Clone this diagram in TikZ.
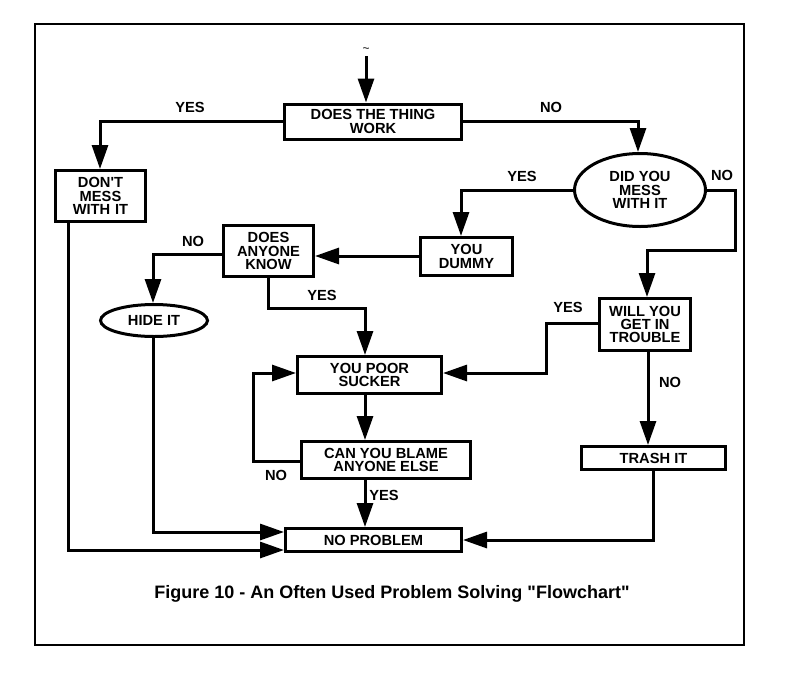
\documentclass[tikz,border=0pt]{standalone}
\usepackage{fontspec}
\setmainfont{Liberation Sans}[Ligatures=TeXOff]
\usetikzlibrary{arrows.meta,shapes.geometric}
\begin{document}
\begin{tikzpicture}[x=0.75pt,y=-0.75pt,
  box/.style={draw,line width=2.25pt,inner sep=0pt,align=center,
    font=\fontsize{11}{10}\selectfont\bfseries},
  wh/.style 2 args={minimum width=#1*0.75pt,minimum height=#2*0.75pt},
  oval/.style={box,ellipse},
  lbl/.style={inner sep=0pt,font=\fontsize{11}{10}\selectfont\bfseries},
  conn/.style={line width=2.25pt,-{Triangle[length=18pt,width=12pt]}},
  plain/.style={line width=2.25pt}]
\useasboundingbox (0,0) rectangle (791,682);
\draw[line width=2pt] (35,24) rectangle (744,645);
% nodes
\node[box,wh={177}{35}] (work) at (373,121.5) {DOES THE THING\\WORK};
\node[box,wh={90}{51}] (dont) at (100.5,196) {DON'T\\MESS\\WITH\,\,IT};
\node[box,wh={90}{51}] (anyone) at (268.5,251) {DOES\\ANYONE\\KNOW};
\node[oval,wh={107}{32}] (hide) at (154,320.5) {HIDE IT};
\node[oval,wh={131}{73}] (mess) at (640,190) {DID YOU\\MESS\\WITH IT};
\node[box,wh={92}{38}] (dummy) at (466.5,256.5) {YOU\\DUMMY};
\node[box,wh={91}{52}] (trouble) at (645,324.5) {WILL YOU\\GET IN\\TROUBLE};
\node[box,wh={144}{37}] (poor) at (369.5,375) {YOU POOR\\SUCKER};
\node[box,wh={169}{37}] (blame) at (386,460) {CAN YOU BLAME\\ANYONE ELSE};
\node[box,wh={176}{23}] (noprob) at (373.5,540) {NO PROBLEM};
\node[box,wh={144}{23}] (trash) at (653.5,458) {TRASH IT};
% start
\coordinate (start) at (366,56);
\node[inner sep=0pt,font=\fontsize{9}{9}\selectfont] (tilde) at (366,50) {\textasciitilde};
\draw[conn] (start) -- (start |- work.north);
% labels
\node[lbl] (l1) at (190,107) {YES};
\node[lbl] (l2) at (551,107) {NO};
\node[lbl] (l3) at (522,176) {YES};
\node[lbl] (l4) at (722,175) {NO};
\node[lbl] (l5) at (193,241) {NO};
\node[lbl] (l6) at (322,295) {YES};
\node[lbl] (l7) at (568,307) {YES};
\node[lbl] (l8) at (670,382) {NO};
\node[lbl] (l9) at (276,475) {NO};
\node[lbl] (l10) at (384,495) {YES};
% connectors
\coordinate (c2) at (100,121);
\draw[conn] (work.west |- c2) -- (c2) -- (c2 |- dont.north);
\coordinate (c3) at (638,121);
\draw[conn] (work.east |- c3) -- (c3) -- (c3 |- mess.north);
\coordinate (c4) at (461,190);
\draw[conn] (mess.west) -- (c4) -- (c4 |- dummy.north);
\coordinate (c5a) at (735,190);
\coordinate (c5b) at (735,250);
\coordinate (c5c) at (647,250);
\draw[conn] (mess.east) -- (c5a) -- (c5b) -- (c5c) -- (c5c |- trouble.north);
\coordinate (c6) at (0,256);
\draw[conn] (dummy.west |- c6) -- (anyone.east |- c6);
\coordinate (c7) at (153,254);
\draw[conn] (anyone.west |- c7) -- (c7) -- (c7 |- hide.north);
\coordinate (c8a) at (268,308);
\coordinate (c8b) at (365,308);
\draw[conn] (c8a |- anyone.south) -- (c8a) -- (c8b) -- (c8b |- poor.north);
\coordinate (c9a) at (546,323);
\coordinate (c9b) at (546,373);
\draw[conn] (trouble.west |- c9a) -- (c9a) -- (c9b) -- (poor.east |- c9b);
\coordinate (c10) at (648,0);
\draw[conn] (c10 |- trouble.south) -- (c10 |- trash.north);
\coordinate (c11) at (365,0);
\draw[conn] (c11 |- poor.south) -- (c11 |- blame.north);
\coordinate (c12a) at (253,461);
\coordinate (c12b) at (253,373);
\draw[conn] (blame.west |- c12a) -- (c12a) -- (c12b) -- (poor.west |- c12b);
\draw[conn] (c11 |- blame.south) -- (c11 |- noprob.north);
\coordinate (c14) at (68,550);
\draw[conn] (c14 |- dont.south) -- (c14) -- (noprob.west |- c14);
\coordinate (c15) at (153,532);
\draw[conn] (c15 |- hide.south) -- (c15) -- (noprob.west |- c15);
\coordinate (c16) at (653,540);
\draw[conn] (c16 |- trash.south) -- (c16) -- (noprob.east |- c16);
% caption
\node[inner sep=0pt,font=\fontsize{13.5}{14}\selectfont\bfseries] (cap) at (392,594)
  {Figure 10 - An Often Used Problem Solving "Flowchart"};
\end{tikzpicture}
\end{document}
